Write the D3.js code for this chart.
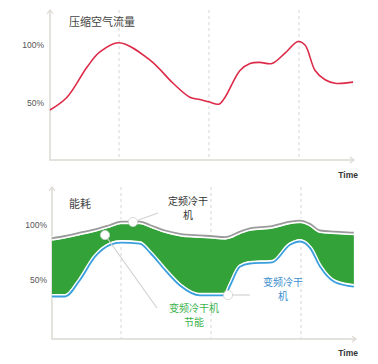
<!DOCTYPE html>
<html>
<head>
<meta charset="utf-8">
<script src="https://cdn.jsdelivr.net/npm/d3@7"></script>
<style>
  body { margin: 0; background: #fff; }
  svg { display: block; }
</style>
</head>
<body>
<div id="chart"></div>
<script>
// top chart: compressed air flow
const airTime = [0, 5.6, 12.2, 16.4, 22.7, 32.9, 40.5, 46, 49.3, 52.3, 55.6, 57.6, 62.5, 65.8, 69, 73, 77.3, 81.6, 83.9, 87.2, 90.5, 93.8, 99.7];
const airFlow = [44, 55, 81, 94, 102, 87, 67, 55, 53, 51, 49, 55, 78, 84, 85, 84, 93, 103, 100, 78, 70, 67, 68];

// bottom chart: energy use
const energyTime = [0, 4.3, 9.2, 14.1, 19.1, 22.7, 28.9, 32.2, 37.2, 42.1, 48.7, 52, 56.9, 58.6, 61.8, 65.1, 72.4, 78.3, 81.6, 84.9, 88.2, 93.1, 99.3];
const fixedSpeed = [88, 90, 93, 96, 100, 103, 103, 100, 95, 92, 90.5, 90, 89, 90, 94, 97, 99, 103, 104, 101, 95, 94, 93];
const variableSpeed = [35, 35, 50, 71, 82, 84, 83, 75, 59, 45, 36, 36, 36, 45, 62, 65, 66, 82, 85, 79, 62, 48, 44];

const tickValues = [50, 100];
const dashTimes = [22.7, 52.3, 81.9];

const width = 378;
const height = 364;
const cjk = "'Noto Sans CJK SC', sans-serif";
const axisColor = "#dcd9d2";

const svg = d3.select("#chart")
  .append("svg")
  .attr("width", width)
  .attr("height", height);

function drawFrame(x, y, yTop, yBottom, title, titleY, timeY, tickPad) {
  const x0 = x.range()[0];
  const x1 = x.range()[1];

  // dashed guides
  svg.append("g")
    .selectAll("line")
    .data(dashTimes)
    .enter()
    .append("line")
    .attr("x1", (d) => x(d))
    .attr("x2", (d) => x(d))
    .attr("y1", yTop)
    .attr("y2", yBottom)
    .attr("stroke", "#d6d6d6")
    .attr("stroke-width", 1)
    .attr("stroke-dasharray", "3,3");

  // axes
  svg.append("path")
    .attr("d", `M${x0},${yTop} L${x0},${yBottom} L${x1},${yBottom}`)
    .attr("fill", "none")
    .attr("stroke", axisColor)
    .attr("stroke-width", 1.5);
  svg.append("path")
    .attr("d", `M${x0 - 3},${yTop + 4} L${x0},${yTop} L${x0 + 3},${yTop + 4}`)
    .attr("fill", "none")
    .attr("stroke", axisColor)
    .attr("stroke-width", 1.2);
  svg.append("path")
    .attr("d", `M${x1 - 4},${yBottom - 3} L${x1},${yBottom} L${x1 - 4},${yBottom + 3}`)
    .attr("fill", "none")
    .attr("stroke", axisColor)
    .attr("stroke-width", 1.2);

  // tick labels
  const yAxis = svg.append("g")
    .attr("transform", `translate(${x0},0)`)
    .call(d3.axisLeft(y).tickValues(tickValues).tickSize(0).tickPadding(tickPad).tickFormat((d) => d + "%"));
  yAxis.select(".domain").remove();
  yAxis.selectAll("text")
    .attr("fill", "#555")
    .style("font-family", "'Liberation Sans Narrow', 'Liberation Sans', sans-serif")
    .style("font-size", "8.5px");

  svg.append("text")
    .attr("x", 69)
    .attr("y", titleY)
    .attr("dy", "0.35em")
    .attr("fill", "#444")
    .style("font-family", cjk)
    .style("font-size", "11px")
    .text(title);

  svg.append("text")
    .attr("x", 358)
    .attr("y", timeY)
    .attr("dy", "0.35em")
    .attr("text-anchor", "end")
    .attr("fill", "#333")
    .style("font-family", "'Liberation Sans Narrow', 'Liberation Sans', sans-serif")
    .style("font-weight", "bold")
    .style("font-size", "8.5px")
    .text("Time");
}

// ---- top chart ----
const xTop = d3.scaleLinear().domain([0, 100]).range([50, 354]);
const yAir = d3.scaleLinear().domain([0, 100]).range([161, 45]);

drawFrame(xTop, yAir, 10, 160, "压缩空气流量", 22, 175, 6);

const airData = airTime.map((t, i) => ({ t, v: airFlow[i] }));
svg.append("path")
  .datum(airData)
  .attr("d", d3.line().x((d) => xTop(d.t)).y((d) => yAir(d.v)).curve(d3.curveCatmullRom.alpha(0.5)))
  .attr("fill", "none")
  .attr("stroke", "#dd2a48")
  .attr("stroke-width", 1.6);

// ---- bottom chart ----
const xBot = d3.scaleLinear().domain([0, 100]).range([52, 356]);
const yEnergy = d3.scaleLinear().domain([0, 100]).range([335, 225]);

drawFrame(xBot, yEnergy, 187, 339, "能耗", 204, 353, 5);

const energyData = energyTime.map((t, i) => ({
  t,
  fixed: fixedSpeed[i],
  vsd: variableSpeed[i],
}));

// green savings band
svg.append("path")
  .datum(energyData)
  .attr("d", d3.area()
    .x((d) => xBot(d.t))
    .y0((d) => yEnergy(d.vsd) - 2.6)
    .y1((d) => yEnergy(d.fixed) + 2.6)
    .curve(d3.curveMonotoneX))
  .attr("fill", "#33a339");

const lineFixed = d3.line().x((d) => xBot(d.t)).y((d) => yEnergy(d.fixed)).curve(d3.curveMonotoneX);
const lineVsd = d3.line().x((d) => xBot(d.t)).y((d) => yEnergy(d.vsd)).curve(d3.curveMonotoneX);

[[lineFixed, "#9a9a9a"], [lineVsd, "#3a9fdc"]].forEach(([gen, color]) => {
  svg.append("path")
    .datum(energyData)
    .attr("d", gen)
    .attr("fill", "none")
    .attr("stroke", "#fff")
    .attr("stroke-width", 4.5);
  svg.append("path")
    .datum(energyData)
    .attr("d", gen)
    .attr("fill", "none")
    .attr("stroke", color)
    .attr("stroke-width", 1.8);
});

// annotations
const leaderColor = "#d2d2d2";
const notes = [
  { cx: 133, cy: 222, lx: 158, ly: 213 },
  { cx: 105, cy: 235, lx: 157, ly: 308 },
  { cx: 228, cy: 295, lx: 250, ly: 295 },
];

svg.append("g")
  .selectAll("line")
  .data(notes)
  .enter()
  .append("line")
  .attr("x1", (d) => d.cx)
  .attr("y1", (d) => d.cy)
  .attr("x2", (d) => d.lx)
  .attr("y2", (d) => d.ly)
  .attr("stroke", leaderColor)
  .attr("stroke-width", 1.2);

svg.append("g")
  .selectAll("circle")
  .data(notes)
  .enter()
  .append("circle")
  .attr("cx", (d) => d.cx)
  .attr("cy", (d) => d.cy)
  .attr("r", 4.6)
  .attr("fill", "#fff")
  .attr("stroke", "#cfcfcf")
  .attr("stroke-width", 0.8);

// two-line labels, one text element each
const labels = [
  { x: 188, y: 204.5, lines: ["定频冷干", "机"], color: "#333" },
  { x: 194, y: 311.5, lines: ["变频冷干机", "节能"], color: "#3bb34e" },
  { x: 283, y: 285.5, lines: ["变频冷干", "机"], color: "#3a8fd0" },
];

const labelText = svg.append("g")
  .selectAll("text")
  .data(labels)
  .enter()
  .append("text")
  .attr("y", (d) => d.y)
  .attr("dy", "0.35em")
  .attr("text-anchor", "middle")
  .attr("fill", (d) => d.color)
  .style("font-family", cjk)
  .style("font-size", "10px");

labelText.selectAll("tspan")
  .data((d) => d.lines.map((s, i) => ({ s, i, x: d.x })))
  .enter()
  .append("tspan")
  .attr("x", (d) => d.x)
  .attr("dy", (d) => (d.i === 0 ? 0 : 14.5))
  .text((d) => d.s);
</script>
</body>
</html>
